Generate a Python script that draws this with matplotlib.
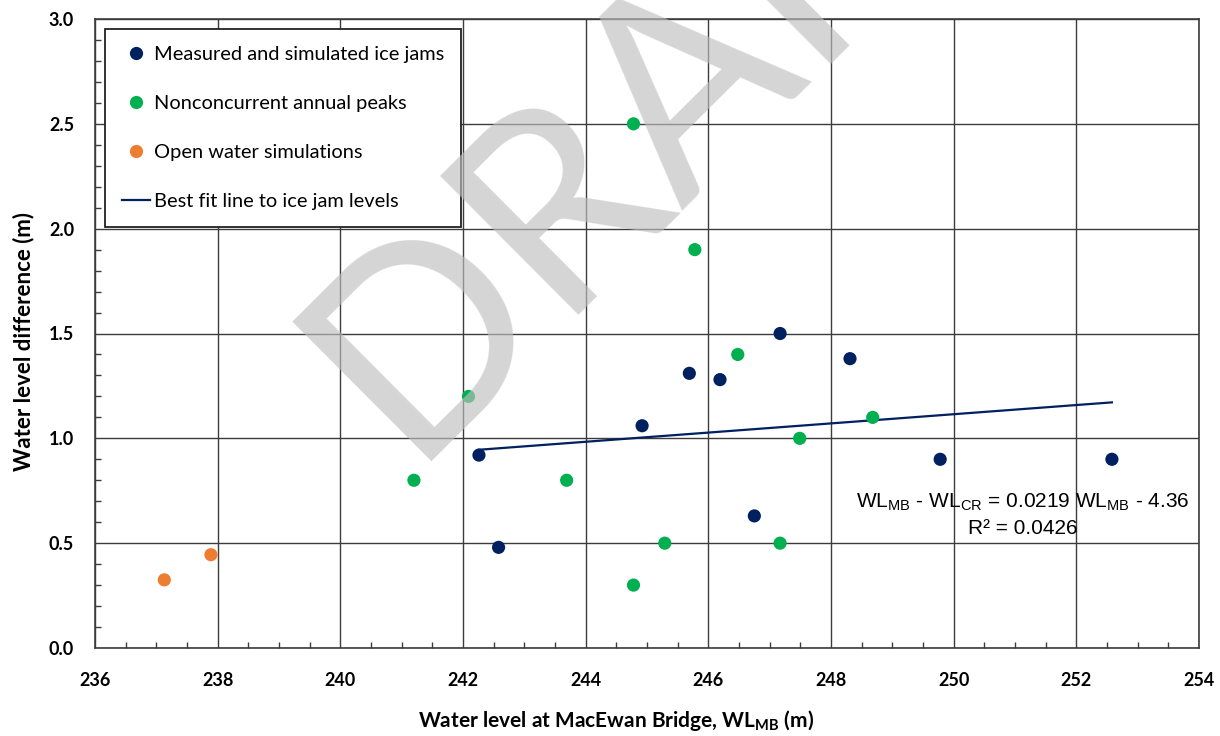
import numpy as np
import matplotlib
matplotlib.use("Agg")
import matplotlib.pyplot as plt
from matplotlib.lines import Line2D
from matplotlib.ticker import MultipleLocator
from matplotlib.textpath import TextPath
from matplotlib.font_manager import FontProperties

plt.rcParams['font.family'] = ['Lato', 'DejaVu Sans']

# Measured and simulated ice jams
ice_x = [242.26, 242.58, 244.92, 245.69, 246.19, 247.17, 246.75, 248.31, 249.78, 252.58]
ice_y = [0.92, 0.48, 1.06, 1.31, 1.28, 1.50, 0.63, 1.38, 0.90, 0.90]

# Nonconcurrent annual peaks
peak_x = [244.78, 245.78, 246.48, 242.09, 241.20, 243.69, 247.49, 248.68, 245.29, 247.17, 244.78]
peak_y = [2.50, 1.90, 1.40, 1.20, 0.80, 0.80, 1.00, 1.10, 0.50, 0.50, 0.30]

# Open water simulations
open_x = [237.13, 237.89]
open_y = [0.325, 0.445]

# best fit line to ice jam levels
fit_slope = 0.0219
fit_intercept = -4.36

navy = '#002060'
green = '#00B050'
orange = '#ED7D31'
gridc = '#3c3c3c'

fig = plt.figure(figsize=(12.2, 7.36), dpi=100)
ax = fig.add_axes([95/1220, 88/736, 1104/1220, 629/736])

fit_x = np.array([min(ice_x), max(ice_x)])
ax.plot(fit_x, fit_slope*fit_x + fit_intercept, color=navy, lw=1.6, zorder=3)
ax.scatter(ice_x, ice_y, s=90, color=navy, edgecolors='none', zorder=4)
ax.scatter(peak_x, peak_y, s=90, color=green, edgecolors='none', zorder=4)
ax.scatter(open_x, open_y, s=90, color=orange, edgecolors='none', zorder=4)

ax.set_xlim(236, 254)
ax.set_ylim(0, 3.0)
ax.xaxis.set_major_locator(MultipleLocator(2))
ax.xaxis.set_minor_locator(MultipleLocator(0.5))
ax.yaxis.set_major_locator(MultipleLocator(0.5))
ax.yaxis.set_minor_locator(MultipleLocator(0.1))
ax.yaxis.set_major_formatter(lambda v, p: f'{v:.1f}')
ax.grid(True, which='major', color=gridc, lw=1.0, zorder=1)
ax.set_axisbelow(True)
ax.tick_params(which='both', direction='in', color=gridc, width=1.0)
ax.tick_params(which='major', length=0)
ax.tick_params(which='minor', length=4.5)
ax.tick_params(axis='y', which='major', pad=15)
ax.tick_params(axis='x', which='major', pad=17)
for lab in ax.get_xticklabels() + ax.get_yticklabels():
    lab.set_fontweight('bold')
    lab.set_fontsize(13)
for s in ax.spines.values():
    s.set_color(gridc)
    s.set_linewidth(1.2)

ax.set_xlabel('Water level at MacEwan Bridge, $\\mathregular{WL_{MB}}$ (m)',
              fontsize=15, fontweight='bold')
ax.xaxis.set_label_coords(0.472, -0.0954)
ax.set_ylabel('Water level difference (m)', fontsize=16, fontweight='bold')
ax.yaxis.set_label_coords(-0.055, 0.487)

handles = [
    Line2D([], [], ls='none', marker='o', ms=9.5, color=navy, mec='none'),
    Line2D([], [], ls='none', marker='o', ms=9.5, color=green, mec='none'),
    Line2D([], [], ls='none', marker='o', ms=9.5, color=orange, mec='none'),
    Line2D([], [], color=navy, lw=1.6),
]
labels = ['Measured and simulated ice jams', 'Nonconcurrent annual peaks',
          'Open water simulations', 'Best fit line to ice jam levels']
leg = ax.legend(handles, labels, loc='upper left',
                bbox_to_anchor=(0.009, 0.3, 0.3225, 0.684), mode='expand',
                borderaxespad=0, fancybox=False, framealpha=1, edgecolor='#222222',
                fontsize=14.4, handlelength=1.4, handletextpad=0.22,
                labelspacing=1.6, borderpad=0.85)
leg.get_frame().set_linewidth(1.3)
leg.set_zorder(5)

ax.text(0.84, 0.212, 'WL$_{\\mathregular{MB}}$ - WL$_{\\mathregular{CR}}$ = 0.0219 WL$_{\\mathregular{MB}}$ - 4.36\nR² = 0.0426',
        transform=ax.transAxes, ha='center', va='center', multialignment='center',
        fontsize=15, family='Liberation Sans', linespacing=1.4, zorder=6)

# draft watermark: D corner at (424, 443) px, A corner at (675, 193) px
fp = FontProperties(family='Lato')
d_left = TextPath((0, 0), 'D', size=1, prop=fp).get_extents().x0
ext_dra = TextPath((0, 0), 'DRA', size=1, prop=fp).get_extents()
ext_a = TextPath((0, 0), 'A', size=1, prop=fp).get_extents()
a_left = ext_dra.x1 - (ext_a.x1 - ext_a.x0)
dx, dy = 675 - 424, 443 - 193
ang = np.arctan2(dy, dx)
em_px = np.hypot(dx, dy) / (a_left - d_left)
wx = 424 - d_left * em_px * np.cos(ang)
wy = 443 + d_left * em_px * np.sin(ang)
fig.text(wx / 1220, 1 - wy / 736, 'DRAFT', rotation=np.degrees(ang), rotation_mode='anchor',
         ha='left', va='baseline', fontsize=em_px * 72 / 100, fontproperties=None,
         color='#BFBFBF', alpha=0.65, zorder=20)

fig.savefig('out.png', dpi=100)
